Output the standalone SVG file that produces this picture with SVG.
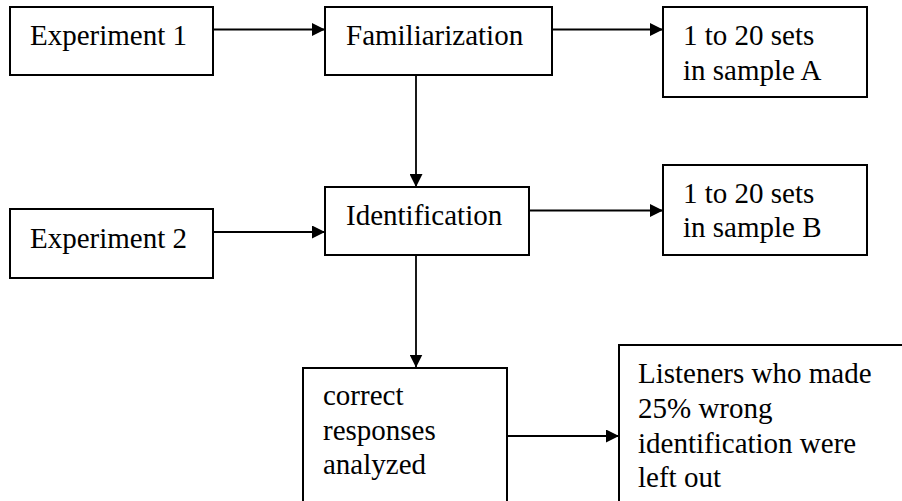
<svg xmlns="http://www.w3.org/2000/svg" width="902" height="501" viewBox="0 0 902 501" font-family="Liberation Serif" font-size="29">
  <style>
    .box { fill: #ffffff; stroke: #000000; stroke-width: 2; }
  </style>
  <defs>
    <marker id="arr" markerUnits="userSpaceOnUse" markerWidth="14" markerHeight="13" refX="13" refY="6.5" orient="auto">
      <path d="M0,0 L13,6.5 L0,13 z" fill="#000000"/>
    </marker>
  </defs>
  <rect width="902" height="501" fill="#ffffff"/>

  <g id="connectors" stroke="#000000" stroke-width="1.8" fill="none" marker-end="url(#arr)">
    <line x1="213" y1="29.5" x2="325" y2="29.5"/>
    <line x1="552" y1="29.5" x2="663" y2="29.5"/>
    <line x1="416" y1="75" x2="416" y2="187"/>
    <line x1="213" y1="232" x2="325" y2="232"/>
    <line x1="529" y1="210.5" x2="663" y2="210.5"/>
    <line x1="416" y1="255" x2="416" y2="367.5"/>
    <line x1="507" y1="436" x2="619" y2="436"/>
  </g>

  <g id="experiment1">
    <rect class="box" x="10" y="7" width="203" height="68"/>
    <text x="30" y="45" font-family="Liberation Serif">Experiment 1</text>
  </g>

  <g id="familiarization">
    <rect class="box" x="325" y="7" width="227" height="68"/>
    <text x="346" y="45" font-family="Liberation Serif">Familiarization</text>
  </g>

  <g id="sampleA">
    <rect class="box" x="663" y="7" width="204" height="90"/>
    <text x="683" y="45" font-family="Liberation Serif">1 to 20 sets</text>
    <text x="683" y="80" font-family="Liberation Serif">in sample A</text>
  </g>

  <g id="experiment2">
    <rect class="box" x="10" y="209" width="203" height="69"/>
    <text x="30" y="248" font-family="Liberation Serif">Experiment 2</text>
  </g>

  <g id="identification">
    <rect class="box" x="325" y="187" width="204" height="68"/>
    <text x="346" y="225" font-family="Liberation Serif">Identification</text>
  </g>

  <g id="sampleB">
    <rect class="box" x="663" y="165" width="204" height="90"/>
    <text x="683" y="203" font-family="Liberation Serif">1 to 20 sets</text>
    <text x="683" y="237" font-family="Liberation Serif">in sample B</text>
  </g>

  <g id="correct">
    <rect class="box" x="303" y="368" width="204" height="160"/>
    <text x="323" y="405" font-family="Liberation Serif">correct</text>
    <text x="323" y="440" font-family="Liberation Serif">responses</text>
    <text x="323" y="474" font-family="Liberation Serif">analyzed</text>
  </g>

  <g id="listeners">
    <rect class="box" x="619" y="345" width="320" height="180"/>
    <text x="638" y="383" font-family="Liberation Serif">Listeners who made</text>
    <text x="638" y="418" font-family="Liberation Serif">25% wrong</text>
    <text x="638" y="453" font-family="Liberation Serif">identification were</text>
    <text x="638" y="487" font-family="Liberation Serif">left out</text>
  </g>
</svg>
